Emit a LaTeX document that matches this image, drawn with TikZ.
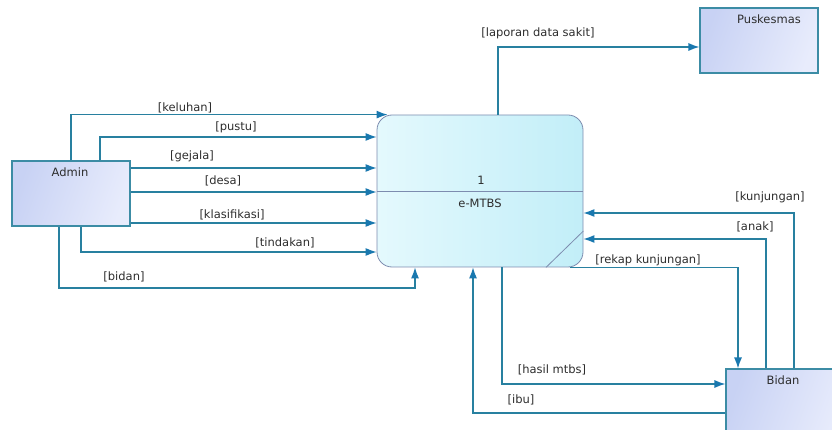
\documentclass[tikz,border=0pt]{standalone}
\usepackage{fontspec}
\setmainfont{DejaVu Sans}
\usetikzlibrary{arrows.meta}

\definecolor{flowc}{RGB}{40,128,160}
\definecolor{tipc}{RGB}{25,120,175}
\definecolor{extborder}{RGB}{60,140,165}
\definecolor{extA}{RGB}{200,210,244}
\definecolor{extB}{RGB}{232,236,252}
\definecolor{procborder}{RGB}{125,140,175}
\definecolor{procA}{RGB}{228,249,253}
\definecolor{procB}{RGB}{194,238,248}
\definecolor{txt}{RGB}{45,45,45}

\begin{document}
\begin{tikzpicture}[x=1pt,y=-1pt,
    font=\fontsize{11.5}{13}\selectfont,
    ext/.style={draw=extborder,line width=1.1pt,left color=extA,right color=extB,shading angle=70,inner sep=0pt},
    proc/.style={draw=procborder,line width=0.8pt,rounded corners=15pt,left color=procA,right color=procB,inner sep=0pt},
    sep/.style={draw=procborder,line width=0.8pt},
    flow/.style={draw=flowc,line width=1.2pt,-{Latex[length=11pt,width=8pt,color=tipc]}},
    lbl/.style={text=txt,inner sep=1pt},
    ttl/.style={text=txt,inner sep=1pt}]
  \useasboundingbox (0,0) rectangle (832,430);
  \clip (0,0) rectangle (832,430);

  \node[ext,minimum width=118pt,minimum height=65pt] (admin) at (71,193.5) {};
  \node[ext,minimum width=118pt,minimum height=65pt] (pusk) at (759,40.5) {};
  \node[ext,minimum width=120pt,minimum height=70pt] (bidan) at (786,404) {};
  \node[proc,minimum width=206pt,minimum height=152pt] (proc) at (480,191) {};
  \draw[sep] (proc.west) -- (proc.east);
  \draw[sep] (proc.south -| 546,0) -- (proc.east |- 0,231);

  \node[ttl] (admin-t) at (70,172) {Admin};
  \node[ttl] (pusk-t) at (769,19) {Puskesmas};
  \node[ttl] (bidan-t) at (783,380) {Bidan};
  \node[ttl] (proc-no) at (481,180) {1};
  \node[ttl] (proc-name) at (480,203) {e-MTBS};

  \draw[flow] (admin.north) |- ([xshift=11pt]proc.north west);
  \draw[flow] (admin.north -| 100,0) |- (proc.west |- 0,137);
  \draw[flow] (admin.east |- 0,168) -- (proc.west |- 0,168);
  \draw[flow] (admin.east |- 0,192) -- (proc.west |- 0,192);
  \draw[flow] (admin.east |- 0,223) -- (proc.west |- 0,223);
  \draw[flow] (admin.south -| 81,0) |- (proc.west |- 0,252);
  \draw[flow] (admin.south -| 59,0) -- (59,288) -| (proc.south -| 415,0);
  \draw[flow] (proc.north -| 498,0) |- (pusk.west |- 0,47);
  \draw[flow] (bidan.north -| 794,0) |- (proc.east |- 0,213);
  \draw[flow] (bidan.north -| 766,0) |- (proc.east |- 0,239);
  \draw[flow] (proc.south -| 570,0) -| (bidan.north -| 738,0);
  \draw[flow] (proc.south -| 502,0) |- (bidan.west |- 0,384);
  \draw[flow] (bidan.west |- 0,413) -| (proc.south -| 473,0);

  \node[lbl] (l-keluhan) at (185,108) {[keluhan]};
  \node[lbl] (l-pustu) at (236,127) {[pustu]};
  \node[lbl] (l-gejala) at (192,156) {[gejala]};
  \node[lbl] (l-desa) at (223,181) {[desa]};
  \node[lbl] (l-klasifikasi) at (232,215) {[klasifikasi]};
  \node[lbl] (l-tindakan) at (285,243) {[tindakan]};
  \node[lbl] (l-bidan) at (124,277) {[bidan]};
  \node[lbl] (l-laporan) at (538,33) {[laporan data sakit]};
  \node[lbl] (l-kunjungan) at (770,197) {[kunjungan]};
  \node[lbl] (l-anak) at (755,227) {[anak]};
  \node[lbl] (l-rekap) at (648,260) {[rekap kunjungan]};
  \node[lbl] (l-hasil) at (552,370) {[hasil mtbs]};
  \node[lbl] (l-ibu) at (521,400) {[ibu]};
\end{tikzpicture}
\end{document}
